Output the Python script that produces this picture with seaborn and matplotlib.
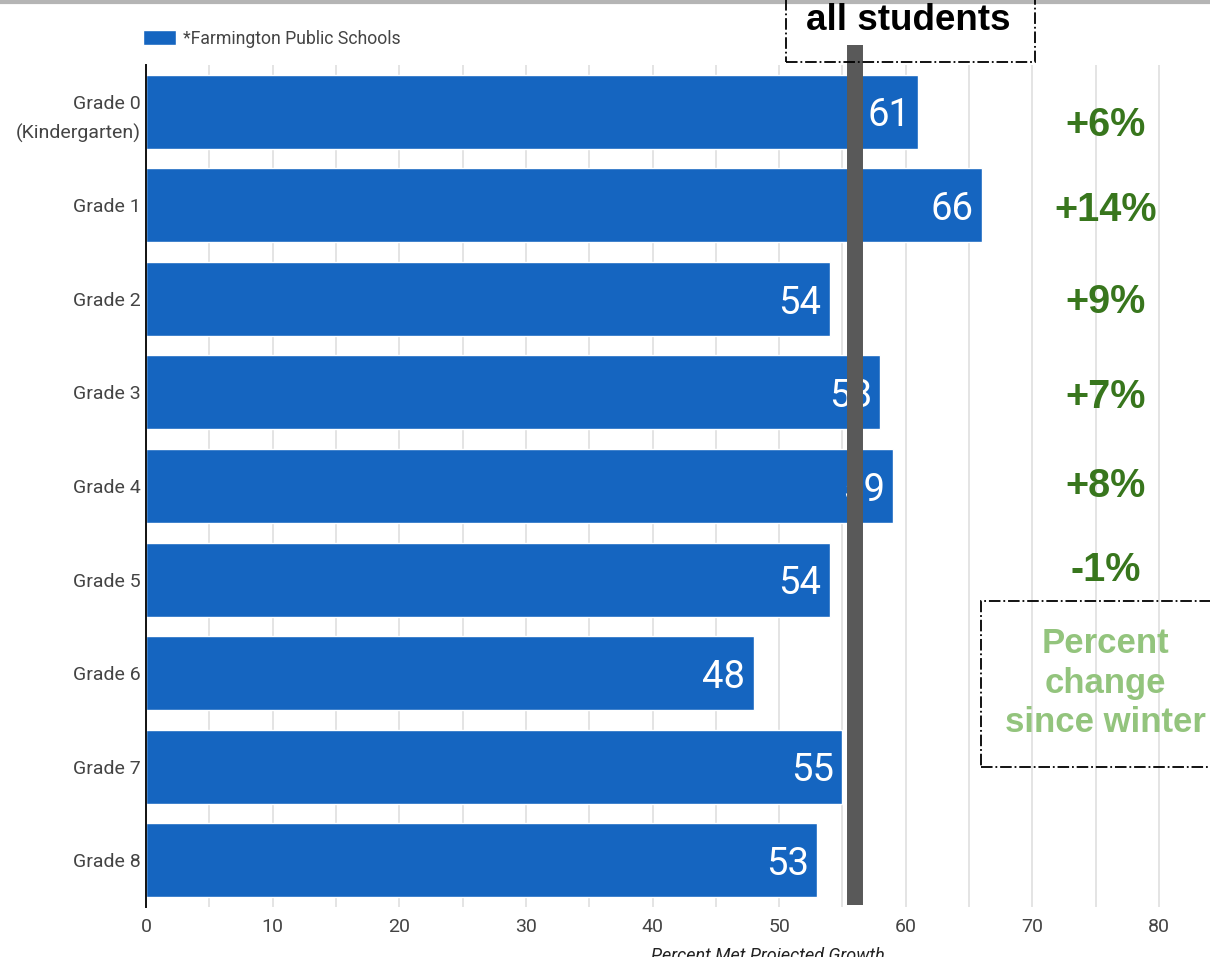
import matplotlib
matplotlib.use("Agg")
import matplotlib.pyplot as plt
import seaborn as sns
import pandas as pd
from matplotlib.patches import Rectangle
from matplotlib.lines import Line2D

# ---- data ----
grades = ["Grade 0\n(Kindergarten)", "Grade 1", "Grade 2", "Grade 3", "Grade 4",
          "Grade 5", "Grade 6", "Grade 7", "Grade 8"]
pct_met = [61, 66, 54, 58, 59, 54, 48, 55, 53]
series_name = "*Farmington Public Schools"
all_students = 56
change_labels = ["+6%", "+14%", "+9%", "+7%", "+8%", "-1%"]
x_ticks = [0, 10, 20, 30, 40, 50, 60, 70, 80]

df = pd.DataFrame({"grade": grades, "pct": pct_met, "series": series_name})

sns.set_theme(style="white")
plt.rcParams["font.family"] = ["Roboto", "DejaVu Sans"]

W, H = 1210, 957
fig = plt.figure(figsize=(W / 100, H / 100), dpi=100)
ax = fig.add_axes([146 / W, 1 - 907 / H, (1197 - 146) / W, (907 - 65) / H])

BLUE = "#1565c0"
sns.barplot(data=df, y="grade", x="pct", hue="series", palette=[BLUE],
            orient="h", width=0.79, ax=ax, saturation=1, zorder=2)

ax.set_xlim(0, 83)
ax.set_ylim(8.5, -0.5)
ax.set_xticks(x_ticks)
ax.set_xticks(range(0, 85, 5), minor=True)
ax.grid(axis="x", which="both", color="#dddddd", linewidth=1.1, zorder=0)
ax.grid(axis="y", visible=False)
ax.set_axisbelow(True)
for side in ["top", "right", "bottom"]:
    ax.spines[side].set_visible(False)
ax.spines["left"].set_color("#111111")
ax.spines["left"].set_linewidth(1.4)
ax.spines["left"].set_zorder(3)
ax.tick_params(axis="both", which="both", length=0)
ax.tick_params(axis="y", pad=4, labelsize=14, labelcolor="#444444")
ax.tick_params(axis="x", pad=8, labelsize=14, labelcolor="#444444")
for t in ax.get_yticklabels():
    t.set_linespacing(1.7)
ax.set_ylabel("")
ax.set_xlabel("Percent Met Projected Growth", fontsize=13, style="italic", color="#222222")
ax.xaxis.set_label_coords((768 - 146) / (1197 - 146), -(947 - 907) / (907 - 65), transform=ax.transAxes)

# value labels inside bar ends
for cont in ax.containers:
    ax.bar_label(cont, labels=[str(v) for v in pct_met], padding=-6,
                 color="white", fontsize=27.5, label_type="edge")
for txt in ax.texts:
    txt.set_ha("right")
    txt.xyann = (-6, -3)

# all-students reference line, drawn on top of the labels
ax.plot([all_students, all_students], [8.48, -0.714], color="#595959",
        linewidth=11.5, solid_capstyle="butt", clip_on=False, zorder=6)

# legend
leg = ax.legend(loc="center left", bbox_to_anchor=(143 / W, 1 - 38.5 / H),
                bbox_transform=fig.transFigure, frameon=False, fontsize=12.7,
                handlelength=1.87, handleheight=0.97, handletextpad=0.4,
                borderpad=0, borderaxespad=0)
for t in leg.get_texts():
    t.set_color("#444444")

# percent change column
nudge_px = [13, 5, 3, 5, 0, -10]
px_per_row = (907 - 65) / 9
for i, lab in enumerate(change_labels):
    ax.text(75.8, i + nudge_px[i] / px_per_row, lab, ha="center", va="center",
            fontsize=28.5, fontweight="bold", color="#38761d",
            family=["Liberation Sans", "DejaVu Sans"], zorder=7)

# header box
fig.patches.append(Rectangle((786 / W, 1 - 62 / H), 249 / W, 80 / H,
                             transform=fig.transFigure, fill=False,
                             edgecolor="black", linewidth=1.3, linestyle="-.",
                             zorder=8))
fig.text(908 / W, 1 - 21 / H, "all students", ha="center", va="center",
         fontsize=26.5, fontweight="bold", color="black",
         family=["Liberation Sans", "DejaVu Sans"])

# annotation box for the change column
fig.patches.append(Rectangle((981 / W, 1 - 767 / H), 240 / W, 166 / H,
                             transform=fig.transFigure, fill=False,
                             edgecolor="black", linewidth=1.3, linestyle="-.",
                             zorder=8))
fig.text(1105 / W, 1 - 683 / H, "Percent\nchange\nsince winter", ha="center",
         va="center", fontsize=25, fontweight="bold", color="#93c47d",
         linespacing=1.25, family=["Liberation Sans", "DejaVu Sans"])

# top rule
fig.add_artist(Line2D([0, 1], [1 - 1.5 / H, 1 - 1.5 / H], transform=fig.transFigure,
                      color="#b5b5b5", linewidth=3))

fig.savefig("out.png", dpi=100)
